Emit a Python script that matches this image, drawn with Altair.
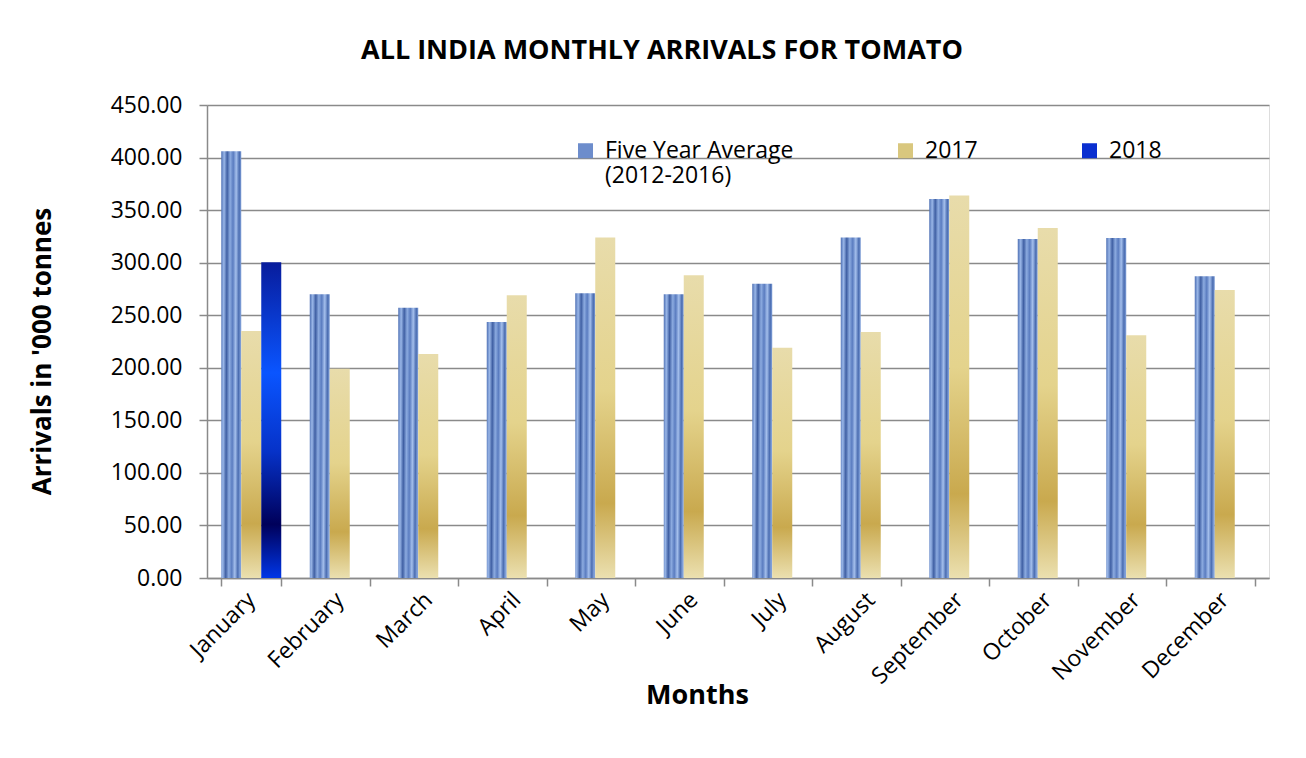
import altair as alt
import pandas as pd

months = ["January", "February", "March", "April", "May", "June", "July",
          "August", "September", "October", "November", "December"]
series = ["Five Year Average (2012-2016)", "2017", "2018"]
avg_5yr = [406.0, 270.0, 257.0, 243.5, 271.0, 270.0, 280.0, 324.0, 360.5, 322.5, 323.5, 287.0]
y2017 = [235.0, 199.0, 213.0, 269.0, 324.0, 288.0, 219.0, 234.0, 364.0, 333.0, 231.0, 274.0]
y2018 = [300.5, None, None, None, None, None, None, None, None, None, None, None]
y_ticks = [0, 50, 100, 150, 200, 250, 300, 350, 400, 450]

rows = []
for i, m in enumerate(months):
    for s, vals in zip(series, [avg_5yr, y2017, y2018]):
        if vals[i] is not None:
            rows.append({"month": m, "series": s, "value": vals[i]})
df = pd.DataFrame(rows)

GRID = "#8a8a8a"
FONT = "Open Sans"

x_enc = alt.X(
    "month:N", sort=months,
    scale=alt.Scale(paddingInner=0.322, paddingOuter=0.161),
    axis=alt.Axis(
        title="Months", labelAngle=315, labelAlign="right", labelBaseline="middle",
        labelFontSize=23, labelColor="black", labelPadding=10, labelFont=FONT,
        tickBand="extent", tickSize=8, tickColor=GRID, tickWidth=1.5,
        domainColor=GRID, domainWidth=1.5, grid=False,
        titleFontSize=27, titleFontWeight="bold", titleColor="black", titleFont=FONT,
        titleX=490, titleY=117, titleAlign="center", titleBaseline="middle",
    ),
)
xo_enc = alt.XOffset("series:N", scale=alt.Scale(domain=series, paddingInner=0, paddingOuter=0))
y_enc = alt.Y(
    "value:Q",
    scale=alt.Scale(domain=[0, 450], nice=False),
    axis=alt.Axis(
        title="Arrivals in '000 tonnes", values=y_ticks, format=".2f",
        labelFontSize=23, labelColor="black", labelPadding=17, labelFont=FONT,
        tickSize=8, tickColor=GRID, tickWidth=1.5,
        domainColor=GRID, domainWidth=1.5,
        grid=True, gridColor=GRID, gridWidth=1.5,
        titleFontSize=26, titleFontWeight="bold", titleColor="black", titleFont=FONT,
        titleAngle=270, titleX=-165, titleY=246, titleAlign="center", titleBaseline="middle",
    ),
)

grad_avg = alt.Gradient(
    gradient="linear", x1=0, y1=0, x2=1, y2=0.08,
    stops=[
        alt.GradientStop(color="#4d6fb3", offset=0),
        alt.GradientStop(color="#9ab7e8", offset=0.15),
        alt.GradientStop(color="#3f5fa3", offset=0.3),
        alt.GradientStop(color="#8cabe0", offset=0.45),
        alt.GradientStop(color="#5a7cc0", offset=0.6),
        alt.GradientStop(color="#a4bfec", offset=0.75),
        alt.GradientStop(color="#4a6cb0", offset=0.9),
        alt.GradientStop(color="#7f9fd8", offset=1),
    ],
)
grad_2017 = alt.Gradient(
    gradient="linear", x1=0, y1=0, x2=0, y2=1,
    stops=[
        alt.GradientStop(color="#e8dcab", offset=0),
        alt.GradientStop(color="#e4d38c", offset=0.45),
        alt.GradientStop(color="#c9a94e", offset=0.78),
        alt.GradientStop(color="#ebe0b0", offset=1),
    ],
)
grad_2018 = alt.Gradient(
    gradient="linear", x1=0, y1=0, x2=0, y2=1,
    stops=[
        alt.GradientStop(color="#081c9c", offset=0),
        alt.GradientStop(color="#0a55ff", offset=0.35),
        alt.GradientStop(color="#0632c8", offset=0.6),
        alt.GradientStop(color="#00005a", offset=0.83),
        alt.GradientStop(color="#0036e6", offset=1),
    ],
)

base = alt.Chart(df)
layers = []
for s, g in zip(series, [grad_avg, grad_2017, grad_2018]):
    layers.append(
        base.transform_filter(alt.datum.series == s)
        .mark_bar(fill=g)
        .encode(x=x_enc, xOffset=xo_enc, y=y_enc)
    )

legend_layer = base.mark_bar(opacity=0).encode(
    x=x_enc, xOffset=xo_enc, y=y_enc,
    color=alt.Color(
        "series:N",
        scale=alt.Scale(domain=series, range=["#6d8dcc", "#d9c77e", "#0a2fd0"]),
        legend=alt.Legend(
            title=None, orient="none", legendX=367, legendY=34, direction="horizontal",
            symbolType="square", symbolSize=225, symbolOpacity=1, symbolStrokeWidth=0,
            labelFontSize=23, labelFont=FONT, labelColor="black", labelOffset=8,
            columnPadding=100, labelLimit=400,
            labelExpr="datum.label == 'Five Year Average (2012-2016)' ? ['Five Year Average', '\u00a0(2012-2016)'] : [datum.label, ' ']",
        ),
    ),
)

chart = alt.layer(*layers, legend_layer).properties(
    width=1062, height=473,
    title=alt.TitleParams(
        "ALL INDIA MONTHLY ARRIVALS FOR TOMATO", fontSize=27, fontWeight="bold",
        font=FONT, color="black", anchor="middle", dx=-76, offset=29,
    ),
    autosize=alt.AutoSizeParams(type="none"),
    padding={"left": 199, "top": 97, "right": 29, "bottom": 172},
).configure_view(stroke=None).configure(font=FONT)

chart.save("out.html", embed_options={"renderer": "svg", "actions": False})
